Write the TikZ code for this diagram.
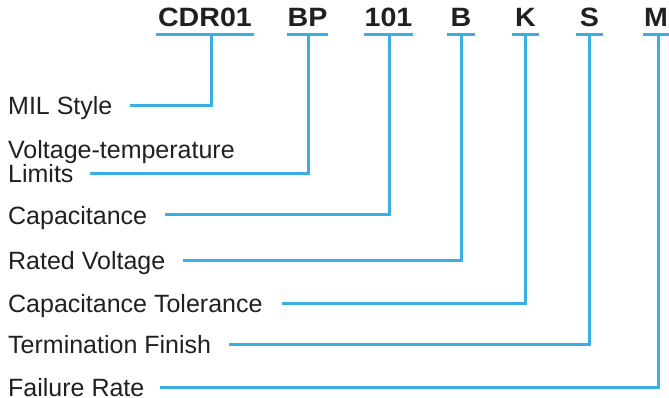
\documentclass[tikz,border=0pt]{standalone}
\usepackage{fontspec}
\setmainfont{Liberation Sans}
\newfontfamily\codefont[FakeStretch=1.08]{Liberation Sans}
\definecolor{lnblue}{RGB}{59,174,228}
\definecolor{txtgray}{RGB}{35,31,32}
\tikzset{
  ln/.style={draw=lnblue, line width=3pt, line join=miter},
  code/.style={inner sep=0pt, anchor=base, text height=19pt, text depth=7pt,
    font=\codefont\fontsize{26.5pt}{28pt}\selectfont\bfseries, text=txtgray},
  lbl/.style={inner sep=0pt, anchor=base west, text height=18pt, text depth=0pt,
    font=\fontsize{25pt}{28pt}\selectfont, text=txtgray},
}
\begin{document}
\begin{tikzpicture}[x=1pt,y=-1pt]
\useasboundingbox (0,0) rectangle (669,398);
% codes
\node[code, minimum width=98pt] (c1) at (205,27) {CDR01};
\node[code, minimum width=39pt] (c2) at (307.5,27) {BP};
\node[code, minimum width=47pt] (c3) at (388.5,27) {101};
\node[code, minimum width=28pt] (c4) at (461,27) {B};
\node[code, minimum width=27pt] (c5) at (525.5,27) {K};
\node[code, minimum width=27pt] (c6) at (589.5,27) {S};
\node[code, minimum width=26pt] (c7) at (656,27) {M};
% labels
\node[lbl] (l1) at (8,115) {MIL Style};
\node[lbl] (l2a) at (8,159) {Voltage-temperature};
\node[lbl] (l2) at (8,183) {Limits};
\node[lbl] (l3) at (8,224) {Capacitance};
\node[lbl] (l4) at (8,269) {Rated Voltage};
\node[lbl] (l5) at (8,312) {Capacitance Tolerance};
\node[lbl] (l6) at (8,353) {Termination Finish};
\node[lbl] (l7) at (8,396) {Failure Rate};
% underlines
\foreach \c in {c1,c2,c3,c4,c5,c6,c7}
  \draw[ln] (\c.south west) -- (\c.south east);
% connectors
\draw[ln] ([xshift=6pt]c1.south) |- ([xshift=17pt]l1.east);
\draw[ln] ([xshift=0.5pt]c2.south) |- ([xshift=16pt]l2.east);
\draw[ln] ([xshift=0.5pt]c3.south) |- ([xshift=18pt]l3.east);
\draw[ln] (c4.south) |- ([xshift=18pt]l4.east);
\draw[ln] (c5.south) |- ([xshift=19pt]l5.east);
\draw[ln] (c6.south) |- ([xshift=18pt]l6.east);
\draw[ln] ([xshift=2pt]c7.south) |- ([xshift=15pt]l7.east);
\end{tikzpicture}
\end{document}
